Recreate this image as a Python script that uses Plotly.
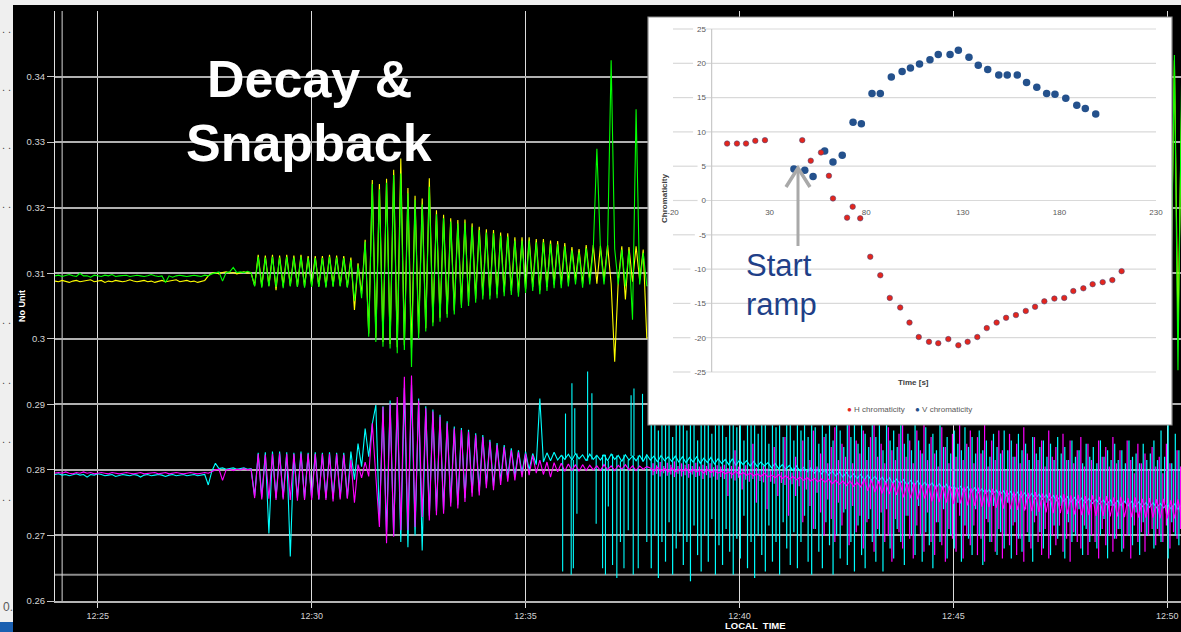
import plotly.graph_objects as go
from datetime import datetime, timedelta

# ---------------------------------------------------------------
# Beam chromaticity signals, sampled every 5 s from 12:24:00
# ---------------------------------------------------------------
T_START = datetime(2012, 3, 30, 12, 24, 0)
SAMPLE_S = 5

green_main = [
    0.3096, 0.3097, 0.3095, 0.3096, 0.3098, 0.3096, 0.3095, 0.3100, 0.3096, 0.3096,
    0.3094, 0.3097, 0.3096, 0.3095, 0.3097, 0.3096, 0.3098, 0.3095, 0.3096, 0.3096,
    0.3097, 0.3095, 0.3096, 0.3097, 0.3096, 0.3095, 0.3096, 0.3098, 0.3096, 0.3095,
    0.3096, 0.3086, 0.3096, 0.3094, 0.3096, 0.3097, 0.3096, 0.3095, 0.3096, 0.3097,
    0.3096, 0.3095, 0.3097, 0.3096,
    0.3099, 0.3101, 0.3102, 0.3088, 0.3101, 0.3102, 0.3109, 0.3101, 0.3102, 0.3101,
    0.3103, 0.3101,
    0.3080, 0.3125, 0.3078, 0.3124, 0.3080, 0.3125, 0.3079, 0.3124, 0.3077, 0.3125,
    0.3080, 0.3124, 0.3079, 0.3125, 0.3078, 0.3123, 0.3079, 0.3123, 0.3079, 0.3123,
    0.3078, 0.3125, 0.3079, 0.3124, 0.3080, 0.3123, 0.3078, 0.3120, 0.3058, 0.3112,
    0.3062, 0.3148, 0.3003, 0.3236, 0.2995, 0.3228, 0.2988, 0.3238, 0.2985, 0.3250,
    0.2978, 0.3252, 0.2983, 0.3222, 0.2957, 0.3212, 0.3000, 0.3205, 0.3011, 0.3232,
    0.3019, 0.3190, 0.3026, 0.3184, 0.3032, 0.3179, 0.3037, 0.3176, 0.3047, 0.3177,
    0.3050, 0.3171, 0.3055, 0.3166, 0.3060, 0.3162, 0.3060, 0.3161, 0.3062, 0.3157,
    0.3065, 0.3156, 0.3067, 0.3150, 0.3064, 0.3150, 0.3070, 0.3150, 0.3073, 0.3147,
    0.3068, 0.3147, 0.3073, 0.3145, 0.3077, 0.3144, 0.3077, 0.3141, 0.3080, 0.3135,
    0.3083, 0.3132, 0.3078, 0.3138, 0.3083, 0.3138, 0.3290, 0.3137, 0.3083, 0.3138,
    0.3425, 0.3137, 0.3083, 0.3136, 0.3080, 0.3135, 0.3029, 0.3350, 0.3083, 0.3131,
    0.3081,
]

yellow_main = [
    0.3088, 0.3087, 0.3089, 0.3088, 0.3086, 0.3088, 0.3089, 0.3087, 0.3088, 0.3088,
    0.3090, 0.3087, 0.3088, 0.3089, 0.3086, 0.3088, 0.3087, 0.3089, 0.3088, 0.3087,
    0.3088, 0.3090, 0.3088, 0.3087, 0.3088, 0.3089, 0.3087, 0.3088, 0.3086, 0.3088,
    0.3089, 0.3087, 0.3088, 0.3088, 0.3090, 0.3087, 0.3088, 0.3089, 0.3087, 0.3088,
    0.3086, 0.3088, 0.3089, 0.3096,
    0.3100, 0.3101, 0.3099, 0.3101, 0.3102, 0.3100, 0.3101, 0.3099, 0.3101, 0.3102,
    0.3100, 0.3101,
    0.3081, 0.3128, 0.3080, 0.3127, 0.3081, 0.3128, 0.3074, 0.3127, 0.3080, 0.3128,
    0.3081, 0.3127, 0.3080, 0.3128, 0.3080, 0.3126, 0.3081, 0.3126, 0.3080, 0.3126,
    0.3080, 0.3128, 0.3081, 0.3127, 0.3081, 0.3126, 0.3079, 0.3124, 0.3044, 0.3115,
    0.3068, 0.3151, 0.3008, 0.3242, 0.3002, 0.3236, 0.2995, 0.3244, 0.2992, 0.3258,
    0.2987, 0.3275, 0.2990, 0.3230, 0.2985, 0.3218, 0.3008, 0.3214, 0.3016, 0.3245,
    0.3025, 0.3196, 0.3032, 0.3189, 0.3038, 0.3184, 0.3043, 0.3181, 0.3052, 0.3182,
    0.3056, 0.3176, 0.3061, 0.3171, 0.3066, 0.3167, 0.3066, 0.3166, 0.3068, 0.3162,
    0.3071, 0.3161, 0.3073, 0.3155, 0.3070, 0.3155, 0.3076, 0.3155, 0.3079, 0.3152,
    0.3074, 0.3152, 0.3079, 0.3150, 0.3083, 0.3149, 0.3083, 0.3146, 0.3086, 0.3140,
    0.3089, 0.3137, 0.3084, 0.3143, 0.3089, 0.3143, 0.3084, 0.3142, 0.3089, 0.3143,
    0.3084, 0.2965, 0.3089, 0.3141, 0.3060, 0.3140, 0.3087, 0.3141, 0.3089, 0.3136,
    0.3001,
]

# last samples of the horizontal-plane pair (12:50:00 onwards)
EDGE_FIRST = 312
green_edge = [0.3110, 0.3050, 0.3433, 0.2952, 0.3390]
yellow_edge = [0.3112, 0.3080, 0.3425, 0.3013, 0.3350]

# vertical-plane pair, samples 0..141 (cyan) and 0..166 (magenta)
cyan = [
    0.2793, 0.2794, 0.2792, 0.2793, 0.2791, 0.2793, 0.2794, 0.2792, 0.2793, 0.2789,
    0.2793, 0.2792, 0.2794, 0.2793, 0.2791, 0.2792, 0.2793, 0.2790, 0.2792, 0.2793,
    0.2792, 0.2791, 0.2793, 0.2792, 0.2789, 0.2792, 0.2793, 0.2791, 0.2792, 0.2793,
    0.2792, 0.2790, 0.2792, 0.2793, 0.2791, 0.2792, 0.2793, 0.2791, 0.2792, 0.2793,
    0.2791, 0.2792, 0.2793, 0.2777,
    0.2798, 0.2810, 0.2802, 0.2803, 0.2801, 0.2802, 0.2803, 0.2801, 0.2802, 0.2803,
    0.2801, 0.2802,
    0.2760, 0.2826, 0.2758, 0.2827, 0.2703, 0.2828, 0.2757, 0.2828, 0.2758, 0.2827,
    0.2668, 0.2826, 0.2757, 0.2828, 0.2756, 0.2826, 0.2757, 0.2827, 0.2755, 0.2826,
    0.2757, 0.2827, 0.2756, 0.2826, 0.2758, 0.2826, 0.2757, 0.2828, 0.2785, 0.2840,
    0.2805, 0.2863, 0.2820, 0.2870, 0.2899, 0.2723, 0.2897, 0.2705, 0.2906, 0.2700,
    0.2903, 0.2690, 0.2925, 0.2682, 0.2930, 0.2700, 0.2909, 0.2677,
    0.2897, 0.2730, 0.2892, 0.2737, 0.2884, 0.2739, 0.2874, 0.2750, 0.2866, 0.2747,
    0.2864, 0.2757, 0.2861, 0.2765, 0.2856, 0.2767, 0.2853, 0.2778, 0.2846, 0.2775,
    0.2841, 0.2783, 0.2838, 0.2788, 0.2833, 0.2790, 0.2830, 0.2795, 0.2828, 0.2800,
    0.2825, 0.2808,
    0.2909, 0.2812, 0.2826, 0.2814, 0.2827, 0.2815,
]

# cyan running level from sample 142 on
CYAN_LEVEL_FIRST = 142
cyan_level = [
    0.2822, 0.2816, 0.2824, 0.2815, 0.2825, 0.2817, 0.2823, 0.2814, 0.2824, 0.2816,
    0.2822, 0.2815, 0.2823, 0.2814, 0.2824, 0.2816, 0.2822, 0.2813, 0.2823, 0.2815,
    0.2821, 0.2814, 0.2822, 0.2813, 0.2823, 0.2815, 0.2821, 0.2812, 0.2822, 0.2814,
    0.2820, 0.2813, 0.2821, 0.2812, 0.2820, 0.2811, 0.2819, 0.2812, 0.2820, 0.2810,
    0.2818, 0.2811, 0.2819, 0.2809, 0.2817, 0.2810, 0.2816, 0.2808, 0.2817, 0.2807,
    0.2815, 0.2808, 0.2814, 0.2806, 0.2813, 0.2805, 0.2812, 0.2806, 0.2811, 0.2803,
    0.2810, 0.2802, 0.2808, 0.2801, 0.2807, 0.2799, 0.2806, 0.2798, 0.2804, 0.2797,
    0.2803, 0.2795, 0.2801, 0.2794, 0.2800, 0.2792, 0.2798, 0.2791, 0.2797, 0.2789,
    0.2796, 0.2788, 0.2794, 0.2787, 0.2793, 0.2785, 0.2792, 0.2784, 0.2790, 0.2783,
    0.2789, 0.2781, 0.2788, 0.2780, 0.2786, 0.2779, 0.2785, 0.2777, 0.2784, 0.2776,
    0.2783, 0.2775, 0.2781, 0.2774, 0.2780, 0.2772, 0.2779, 0.2771, 0.2778, 0.2770,
    0.2776, 0.2769, 0.2775, 0.2767, 0.2774, 0.2766, 0.2773, 0.2765, 0.2771, 0.2764,
    0.2770, 0.2763, 0.2769, 0.2762, 0.2768, 0.2760, 0.2767, 0.2759, 0.2766, 0.2758,
    0.2765, 0.2757, 0.2764, 0.2756, 0.2763, 0.2755, 0.2762, 0.2754, 0.2761, 0.2753,
    0.2760, 0.2752, 0.2759, 0.2751, 0.2758, 0.2750, 0.2757, 0.2750, 0.2756, 0.2749,
    0.2755, 0.2748, 0.2754, 0.2747, 0.2754, 0.2746, 0.2753, 0.2746, 0.2752, 0.2745,
    0.2752, 0.2744, 0.2751, 0.2744, 0.2750, 0.2743, 0.2750, 0.2742, 0.2749, 0.2742,
    0.2748, 0.2741, 0.2748, 0.2740, 0.2747,
]

# first cyan glitches (seconds after 12:24:00, extreme value)
cyan_glitch_s = [712, 716, 724, 725, 727, 729, 732, 747, 753, 759, 768, 772,
                 776, 782, 788, 793, 798, 804, 808, 811, 812, 818, 824, 830]
cyan_glitch_v = [0.2645, 0.2886, 0.2640, 0.2932, 0.2650, 0.2894, 0.2733, 0.2950,
                 0.2917, 0.2718, 0.2650, 0.2640, 0.2744, 0.2655, 0.2635, 0.2690,
                 0.2650, 0.2708, 0.2914, 0.2640, 0.2924, 0.2650, 0.2916, 0.2690]

# per-sample extremes from sample 167 on (noisy part of the record)
NOISY_FIRST = 167
cyan_low = [
    0.2650, 0.2700, 0.2635, 0.2690, 0.2660, 0.2720, 0.2640, 0.2680, 0.2705, 0.2655,
    0.2690, 0.2630, 0.2715, 0.2670, 0.2645, 0.2700, 0.2660, 0.2725, 0.2640, 0.2685,
    0.2655, 0.2710, 0.2675, 0.2640, 0.2695, 0.2665, 0.2730, 0.2650, 0.2690, 0.2635,
    0.2700, 0.2670, 0.2645, 0.2715, 0.2660, 0.2690, 0.2640, 0.2720, 0.2680, 0.2655,
    0.2705, 0.2650, 0.2690, 0.2730, 0.2660, 0.2640, 0.2710, 0.2675, 0.2650, 0.2720,
    0.2685, 0.2640, 0.2700, 0.2665, 0.2735, 0.2655, 0.2690, 0.2645, 0.2715, 0.2670,
    0.2650, 0.2725, 0.2690, 0.2660, 0.2700, 0.2645, 0.2740, 0.2680, 0.2665, 0.2710,
    0.2690, 0.2655, 0.2730, 0.2700, 0.2670, 0.2745, 0.2660, 0.2705, 0.2685, 0.2650,
    0.2720, 0.2690, 0.2740, 0.2665, 0.2700, 0.2680, 0.2750, 0.2660, 0.2715, 0.2695,
    0.2670, 0.2740, 0.2700, 0.2655, 0.2725, 0.2690, 0.2745, 0.2670, 0.2705, 0.2680,
    0.2750, 0.2665, 0.2720, 0.2695, 0.2675, 0.2740, 0.2690, 0.2660, 0.2730, 0.2705,
    0.2680, 0.2750, 0.2670, 0.2715, 0.2695, 0.2745, 0.2665, 0.2720, 0.2690, 0.2700,
    0.2740, 0.2670, 0.2710, 0.2690, 0.2755, 0.2680, 0.2700, 0.2725, 0.2665, 0.2745,
    0.2695, 0.2710, 0.2675, 0.2750, 0.2700, 0.2685, 0.2735, 0.2670, 0.2720, 0.2700,
    0.2745, 0.2680, 0.2710, 0.2690, 0.2750, 0.2665, 0.2720, 0.2700, 0.2685, 0.2740,
]
cyan_high = [
    0.2880, 0.2910, 0.2860, 0.2900, 0.2875, 0.2925, 0.2850, 0.2895, 0.2870, 0.2915,
    0.2860, 0.2905, 0.2880, 0.2845, 0.2920, 0.2870, 0.2890, 0.2855, 0.2910, 0.2875,
    0.2900, 0.2850, 0.2885, 0.2915, 0.2865, 0.2895, 0.2845, 0.2905, 0.2870, 0.2890,
    0.2855, 0.2910, 0.2875, 0.2840, 0.2900, 0.2865, 0.2885, 0.2850, 0.2905, 0.2870,
    0.2845, 0.2895, 0.2860, 0.2880, 0.2850, 0.2900, 0.2865, 0.2840, 0.2890, 0.2855,
    0.2875, 0.2845, 0.2895, 0.2860, 0.2835, 0.2885, 0.2850, 0.2870, 0.2840, 0.2890,
    0.2855, 0.2835, 0.2880, 0.2850, 0.2870, 0.2830, 0.2885, 0.2845, 0.2860, 0.2835,
    0.2875, 0.2840, 0.2855, 0.2830, 0.2870, 0.2845, 0.2825, 0.2865, 0.2840, 0.2855,
    0.2830, 0.2870, 0.2835, 0.2850, 0.2825, 0.2860, 0.2840, 0.2830, 0.2865, 0.2835,
    0.2850, 0.2825, 0.2860, 0.2830, 0.2845, 0.2820, 0.2855, 0.2835, 0.2825, 0.2860,
    0.2830, 0.2845, 0.2820, 0.2855, 0.2830, 0.2840, 0.2815, 0.2850, 0.2825, 0.2835,
    0.2845, 0.2820, 0.2840, 0.2815, 0.2850, 0.2825, 0.2835, 0.2815, 0.2845, 0.2820,
    0.2830, 0.2810, 0.2840, 0.2820, 0.2835, 0.2810, 0.2845, 0.2820, 0.2830, 0.2815,
    0.2840, 0.2815, 0.2830, 0.2810, 0.2845, 0.2820, 0.2825, 0.2810, 0.2840, 0.2815,
    0.2825, 0.2845, 0.2815, 0.2860, 0.2820, 0.2870, 0.2810, 0.2855, 0.2830, 0.2865,
]

magenta = [
    0.2795, 0.2796, 0.2795, 0.2797, 0.2795, 0.2794, 0.2796, 0.2795, 0.2797, 0.2795,
    0.2796, 0.2794, 0.2795, 0.2796, 0.2795, 0.2794, 0.2796, 0.2795, 0.2794, 0.2795,
    0.2796, 0.2795, 0.2794, 0.2795, 0.2796, 0.2794, 0.2795, 0.2795, 0.2796, 0.2794,
    0.2795, 0.2796, 0.2794, 0.2795, 0.2796, 0.2795, 0.2794, 0.2795, 0.2796, 0.2795,
    0.2794, 0.2795, 0.2796, 0.2795,
    0.2798, 0.2800, 0.2801, 0.2784, 0.2800, 0.2801, 0.2799, 0.2801, 0.2800, 0.2802,
    0.2800, 0.2801,
    0.2757, 0.2824, 0.2755, 0.2823, 0.2756, 0.2824, 0.2754, 0.2825, 0.2755, 0.2824,
    0.2754, 0.2824, 0.2753, 0.2825, 0.2754, 0.2824, 0.2754, 0.2824, 0.2755, 0.2824,
    0.2754, 0.2824, 0.2752, 0.2824, 0.2755, 0.2823, 0.2756, 0.2815, 0.2750, 0.2808,
    0.2788, 0.2812, 0.2790, 0.2871, 0.2790, 0.2713, 0.2896, 0.2688, 0.2901, 0.2698,
    0.2911, 0.2708, 0.2942, 0.2708, 0.2944, 0.2713, 0.2906, 0.2728,
    0.2894, 0.2723, 0.2889, 0.2731, 0.2881, 0.2733, 0.2871, 0.2744, 0.2863, 0.2741,
    0.2861, 0.2751, 0.2858, 0.2759, 0.2853, 0.2761, 0.2850, 0.2772, 0.2843, 0.2769,
    0.2838, 0.2777, 0.2835, 0.2782, 0.2830, 0.2784, 0.2827, 0.2789, 0.2825, 0.2792,
    0.2822, 0.2795,
    0.2815, 0.2793, 0.2812, 0.2789, 0.2811, 0.2797, 0.2810, 0.2798, 0.2809, 0.2799,
    0.2808, 0.2798, 0.2808, 0.2799, 0.2807, 0.2800, 0.2806, 0.2799, 0.2808, 0.2800,
    0.2806, 0.2799, 0.2807, 0.2801, 0.2808, 0.2800, 0.2806, 0.2799, 0.2806, 0.2801,
    0.2805,
]

magenta_level = [
    0.2803, 0.2798, 0.2804, 0.2798, 0.2802, 0.2797, 0.2803, 0.2797, 0.2801, 0.2798,
    0.2802, 0.2796, 0.2801, 0.2797, 0.2800, 0.2795, 0.2801, 0.2796, 0.2799, 0.2795,
    0.2798, 0.2794, 0.2797, 0.2793, 0.2798, 0.2792, 0.2796, 0.2792, 0.2795, 0.2791,
    0.2794, 0.2790, 0.2795, 0.2789, 0.2792, 0.2788, 0.2793, 0.2787, 0.2791, 0.2786,
    0.2790, 0.2785, 0.2789, 0.2784, 0.2788, 0.2783, 0.2787, 0.2782, 0.2786, 0.2781,
    0.2786, 0.2779, 0.2784, 0.2778, 0.2783, 0.2776, 0.2783, 0.2775, 0.2781, 0.2774,
    0.2786, 0.2768, 0.2784, 0.2766, 0.2783, 0.2764, 0.2781, 0.2763, 0.2780, 0.2762,
    0.2782, 0.2758, 0.2779, 0.2757, 0.2780, 0.2755, 0.2777, 0.2756, 0.2778, 0.2752,
    0.2776, 0.2751, 0.2775, 0.2750, 0.2776, 0.2748, 0.2773, 0.2749, 0.2774, 0.2746,
    0.2772, 0.2745, 0.2773, 0.2744, 0.2770, 0.2743, 0.2771, 0.2742, 0.2768, 0.2741,
    0.2769, 0.2740, 0.2767, 0.2739, 0.2768, 0.2738, 0.2765, 0.2737, 0.2766, 0.2736,
    0.2764, 0.2735, 0.2765, 0.2734, 0.2762, 0.2734, 0.2763, 0.2733, 0.2761, 0.2732,
    0.2762, 0.2731, 0.2760, 0.2731, 0.2761, 0.2730, 0.2759, 0.2730, 0.2760, 0.2729,
    0.2758, 0.2729, 0.2759, 0.2728, 0.2757, 0.2728, 0.2758, 0.2727, 0.2756, 0.2727,
    0.2757, 0.2727, 0.2755, 0.2726, 0.2756, 0.2726, 0.2754, 0.2726, 0.2755, 0.2726,
]
magenta_low = [
    0.2792, 0.2794, 0.2790, 0.2795, 0.2791, 0.2793, 0.2789, 0.2794, 0.2790, 0.2792,
    0.2788, 0.2793, 0.2789, 0.2791, 0.2786, 0.2792, 0.2788, 0.2790, 0.2785, 0.2789,
    0.2786, 0.2760, 0.2787, 0.2784, 0.2788, 0.2770, 0.2785, 0.2782, 0.2786, 0.2750,
    0.2783, 0.2781, 0.2740, 0.2782, 0.2779, 0.2760, 0.2780, 0.2777, 0.2730, 0.2778,
    0.2760, 0.2775, 0.2720, 0.2770, 0.2745, 0.2710, 0.2765, 0.2735, 0.2700, 0.2755,
    0.2725, 0.2690, 0.2750, 0.2715, 0.2740, 0.2685, 0.2745, 0.2705, 0.2730, 0.2680,
    0.2720, 0.2740, 0.2675, 0.2710, 0.2735, 0.2690, 0.2700, 0.2660, 0.2725, 0.2705,
    0.2680, 0.2730, 0.2695, 0.2665, 0.2715, 0.2700, 0.2675, 0.2735, 0.2690, 0.2670,
    0.2720, 0.2685, 0.2660, 0.2710, 0.2695, 0.2675, 0.2730, 0.2665, 0.2700, 0.2685,
    0.2715, 0.2670, 0.2695, 0.2660, 0.2720, 0.2690, 0.2675, 0.2710, 0.2665, 0.2700,
    0.2685, 0.2715, 0.2670, 0.2695, 0.2660, 0.2705, 0.2680, 0.2720, 0.2690, 0.2670,
    0.2710, 0.2665, 0.2700, 0.2685, 0.2715, 0.2675, 0.2695, 0.2660, 0.2705, 0.2690,
    0.2680, 0.2715, 0.2670, 0.2700, 0.2690, 0.2665, 0.2710, 0.2685, 0.2700, 0.2675,
    0.2695, 0.2710, 0.2680, 0.2700, 0.2665, 0.2715, 0.2690, 0.2705, 0.2675, 0.2700,
    0.2710, 0.2685, 0.2700, 0.2690, 0.2715, 0.2680, 0.2705, 0.2695, 0.2710, 0.2700,
]
magenta_high = [
    0.2810, 0.2807, 0.2812, 0.2806, 0.2811, 0.2808, 0.2813, 0.2806, 0.2810, 0.2808,
    0.2809, 0.2806, 0.2811, 0.2805, 0.2808, 0.2806, 0.2810, 0.2804, 0.2807, 0.2805,
    0.2808, 0.2803, 0.2806, 0.2830, 0.2805, 0.2802, 0.2807, 0.2801, 0.2840, 0.2803,
    0.2800, 0.2806, 0.2802, 0.2799, 0.2835, 0.2800, 0.2797, 0.2850, 0.2799, 0.2796,
    0.2820, 0.2798, 0.2845, 0.2800, 0.2815, 0.2860, 0.2805, 0.2825, 0.2850, 0.2810,
    0.2835, 0.2865, 0.2815, 0.2840, 0.2820, 0.2870, 0.2810, 0.2845, 0.2825, 0.2860,
    0.2815, 0.2850, 0.2870, 0.2820, 0.2840, 0.2810, 0.2865, 0.2830, 0.2815, 0.2855,
    0.2875, 0.2820, 0.2845, 0.2810, 0.2860, 0.2830, 0.2870, 0.2815, 0.2850, 0.2825,
    0.2805, 0.2865, 0.2835, 0.2810, 0.2855, 0.2820, 0.2875, 0.2815, 0.2840, 0.2860,
    0.2810, 0.2850, 0.2825, 0.2870, 0.2805, 0.2845, 0.2815, 0.2860, 0.2830, 0.2800,
    0.2855, 0.2820, 0.2840, 0.2810, 0.2865, 0.2825, 0.2800, 0.2850, 0.2815, 0.2845,
    0.2805, 0.2860, 0.2820, 0.2835, 0.2800, 0.2855, 0.2815, 0.2845, 0.2810, 0.2830,
    0.2850, 0.2805, 0.2840, 0.2815, 0.2800, 0.2845, 0.2820, 0.2835, 0.2805, 0.2850,
    0.2810, 0.2830, 0.2800, 0.2845, 0.2815, 0.2795, 0.2840, 0.2810, 0.2825, 0.2800,
    0.2835, 0.2805, 0.2820, 0.2795, 0.2840, 0.2810, 0.2800, 0.2830, 0.2805, 0.2815,
]

main_yticks = [0.26, 0.27, 0.28, 0.29, 0.30, 0.31, 0.32, 0.33, 0.34]
main_yticktext = ["0.26", "0.27", "0.28", "0.29", "0.3", "0.31", "0.32", "0.33", "0.34"]

# ---------------------------------------------------------------
# Inset: chromaticity measured along the ramp
# ---------------------------------------------------------------
v_time = [42.6, 48.2, 52.5, 58.5, 62.8, 67.6, 73.2, 77.5, 83.0, 87.3,
          93.0, 98.6, 102.9, 107.6, 113.0, 117.3, 123.4, 127.7, 133.2, 138.0,
          142.9, 148.6, 153.0, 158.2, 163.0, 168.3, 173.4, 177.7, 183.3, 189.0,
          193.4, 198.8]
v_chroma = [4.6, 4.4, 3.5, 7.2, 5.6, 6.6, 11.4, 11.2, 15.6, 15.6,
            18.0, 18.8, 19.3, 19.9, 20.5, 21.3, 21.3, 21.9, 20.9, 19.7,
            19.1, 18.3, 18.3, 18.3, 17.2, 16.5, 15.6, 15.5, 14.9, 13.9,
            13.4, 12.6]
h_time = [8.0, 13.1, 17.8, 22.6, 27.6, 46.9, 51.3, 56.6, 60.7, 62.8,
          70.1, 73.0, 76.9, 82.1, 87.3, 92.2, 97.6, 102.4, 107.2, 112.5,
          117.3, 122.5, 127.7, 132.5, 137.5, 142.4, 147.5, 152.4, 157.5, 162.6,
          167.4, 172.2, 177.4, 182.5, 187.2, 192.4, 197.2, 202.4, 207.4, 212.2]
h_chroma = [8.3, 8.3, 8.3, 8.7, 8.8, 8.8, 5.8, 7.0, 3.6, 0.3,
            -2.5, -0.9, -2.6, -8.2, -10.9, -14.2, -15.6, -17.8, -19.9, -20.6,
            -20.8, -20.2, -21.1, -20.6, -19.9, -18.6, -17.8, -17.1, -16.7, -16.1,
            -15.5, -14.7, -14.3, -14.2, -13.2, -12.8, -12.2, -11.9, -11.6, -10.3]

inset_xticks = [-20, 30, 80, 130, 180, 230]
inset_xticktext = ["-20", "30", "80", "130", "180", "230"]
inset_yticks = [-25, -20, -15, -10, -5, 0, 5, 10, 15, 20, 25]
inset_yticktext = ["-25", "-20", "-15", "-10", "-5", "0", "5", "10", "15", "20", "25"]

# ---------------------------------------------------------------
# Page geometry (pixels) and helpers
# ---------------------------------------------------------------
W, H = 1181, 632
ML, MT, MB = 55, 11, 31
PW, PH = W - ML, H - MT - MB
PX_PER_MIN = 42.78
FONT = "Liberation Sans, Arial, sans-serif"


def fx(px):
    return (px - ML) / PW


def fy(py):
    return (H - MB - py) / PH


def stamps(first, n):
    return [T_START + timedelta(seconds=SAMPLE_S * (first + k)) for k in range(n)]


def glitch_path(secs, values, level, first):
    """Vertical strokes from the running level to each glitch extreme."""
    xs, ys = [], []
    for s, v in zip(secs, values):
        k = min(max(int(round(s / SAMPLE_S)) - first, 0), len(level) - 1)
        t = T_START + timedelta(seconds=s)
        xs += [t, t, None]
        ys += [level[k], v, None]
    return xs, ys


def extremes_path(first, lows, highs, shift_s):
    """One vertical stroke per sample spanning its min..max excursion."""
    xs, ys = [], []
    for k, (lo, hi) in enumerate(zip(lows, highs)):
        t = T_START + timedelta(seconds=SAMPLE_S * (first + k) + shift_s)
        xs += [t, t, None]
        ys += [lo, hi, None]
    return xs, ys


x_end = T_START + timedelta(minutes=PW / PX_PER_MIN)

# inset frame and its value scale
BOX_L, BOX_R, BOX_T, BOX_B = 648, 1172, 17, 425
IX_A, IX_B = 673, 1156      # pixel columns of -20 and 230
IY_A, IY_B = 29, 372        # pixel rows of 25 and -25
ipx = (IX_B - IX_A) / 250.0
ipy = (IY_B - IY_A) / 50.0


def ix(px):
    return -20 + (px - IX_A) / ipx


def iy(py):
    return 25 - (py - IY_A) / ipy


fig = go.Figure()
LW = 1.1


def add_line(x, y, color, width=LW):
    fig.add_trace(go.Scatter(x=x, y=y, mode="lines", line=dict(color=color, width=width),
                             hoverinfo="skip", showlegend=False))


# horizontal-plane pair
add_line(stamps(0, len(yellow_main)) + stamps(EDGE_FIRST, len(yellow_edge)),
         yellow_main + yellow_edge, "#ffff00")
add_line(stamps(0, len(green_main)) + stamps(EDGE_FIRST, len(green_edge)),
         green_main + green_edge, "#00ff00")

# vertical-plane pair (per-sample extremes drawn at quarter offsets so both stay visible)
add_line(stamps(0, len(cyan)) + stamps(CYAN_LEVEL_FIRST, len(cyan_level)),
         cyan + cyan_level, "#00ffff")
gx, gy = glitch_path(cyan_glitch_s, cyan_glitch_v, cyan_level, CYAN_LEVEL_FIRST)
add_line(gx, gy, "#00ffff")
ex, ey = extremes_path(NOISY_FIRST, cyan_low, cyan_high, 1.25)
add_line(ex, ey, "#00ffff", 1.2)
add_line(stamps(0, len(magenta)) + stamps(NOISY_FIRST, len(magenta_level)),
         magenta + magenta_level, "#ff00ff")
ex, ey = extremes_path(NOISY_FIRST, magenta_low, magenta_high, 3.75)
add_line(ex, ey, "#ff00ff", 1.2)

# inset scatter
fig.add_trace(go.Scatter(x=v_time, y=v_chroma, xaxis="x2", yaxis="y2", mode="markers",
                         marker=dict(size=7.5, color="#24518c", line=dict(width=0)),
                         hoverinfo="skip", showlegend=False))
fig.add_trace(go.Scatter(x=h_time, y=h_chroma, xaxis="x2", yaxis="y2", mode="markers",
                         marker=dict(size=5.5, color="#e4261d",
                                     line=dict(width=1, color="rgba(70,70,120,0.55)")),
                         hoverinfo="skip", showlegend=False))

shapes = [
    # black screen area
    dict(type="rect", xref="paper", yref="paper", x0=fx(13), x1=1.02, y0=fy(645), y1=fy(5),
         fillcolor="#000000", line=dict(width=0), layer="below"),
    # blue corner strip
    dict(type="rect", xref="paper", yref="paper", x0=fx(-2), x1=fx(13), y0=fy(634), y1=fy(622),
         fillcolor="#1a5fb0", line=dict(width=0), layer="below"),
    # lower limit line
    dict(type="line", xref="paper", yref="y", x0=0, x1=1, y0=0.264, y1=0.264,
         line=dict(color="#8c8c8c", width=2), layer="below"),
    # cursor
    dict(type="line", xref="x", yref="y", x0=T_START + timedelta(seconds=10),
         x1=T_START + timedelta(seconds=10), y0=0.26, y1=0.35,
         line=dict(color="#d8d8d8", width=1), layer="below"),
    # inset white panel
    dict(type="rect", xref="x2", yref="y2", x0=ix(BOX_L - 2), x1=ix(BOX_R + 2),
         y0=iy(BOX_B + 2), y1=iy(BOX_T - 2), fillcolor="#ffffff", line=dict(width=0), layer="below"),
]

# inset horizontal gridlines, interrupted behind the value labels
for v, txt in zip(inset_yticks, inset_yticktext):
    lab_w = 4.45 * len(txt.replace("-", "")) + (2.7 if txt.startswith("-") else 0)
    gap0 = ix(704 - lab_w - 2)
    gap1 = ix(706)
    shapes.append(dict(type="line", xref="x2", yref="y2", x0=-20, x1=gap0, y0=v, y1=v,
                       line=dict(color="#d9d9d9", width=1.2), layer="below"))
    shapes.append(dict(type="line", xref="x2", yref="y2", x0=gap1, x1=230, y0=v, y1=v,
                       line=dict(color="#d9d9d9", width=1.2), layer="below"))
# inset value axis at t = 0
shapes.append(dict(type="line", xref="x2", yref="y2", x0=0, x1=0, y0=-25, y1=25,
                   line=dict(color="#c8c8c8", width=1.2), layer="below"))
# ramp-start arrow
shapes.append(dict(type="path", xref="x2", yref="y2",
                   path=f"M {ix(798)},{iy(246)} L {ix(798)},{iy(170)}",
                   line=dict(color="#a9a9a9", width=3), layer="above"))
shapes.append(dict(type="path", xref="x2", yref="y2",
                   path=f"M {ix(786)},{iy(187)} L {ix(798)},{iy(168)} L {ix(810)},{iy(187)}",
                   line=dict(color="#a9a9a9", width=3.5), layer="above"))
# inset border
shapes.append(dict(type="rect", xref="paper", yref="paper", x0=fx(BOX_L), x1=fx(BOX_R),
                   y0=fy(BOX_B), y1=fy(BOX_T), line=dict(color="#8e8e8e", width=1.2),
                   fillcolor="rgba(0,0,0,0)", layer="above"))


def ann(px, py, text, size, color, bold=False, angle=0, xanchor="center"):
    return dict(xref="paper", yref="paper", x=fx(px), y=fy(py),
                text=f"<b>{text}</b>" if bold else text,
                showarrow=False, xanchor=xanchor, yanchor="middle", textangle=angle,
                font=dict(family=FONT, size=size, color=color))


annotations = [
    ann(309, 79, "Decay &amp;", 52, "#ffffff", bold=True),
    ann(309, 143, "Snapback", 52, "#ffffff", bold=True),
    ann(22, 306, "No Unit", 9, "#ffffff", bold=True, angle=-90),
    ann(755, 625, "LOCAL  TIME", 9.5, "#ffffff", bold=True),
    ann(744, 265, "Start", 31, "#1f3f88", xanchor="left"),
    ann(744, 304, "ramp", 31, "#1f3f88", xanchor="left"),
    ann(665, 199, "Chromaticity", 8, "#404040", bold=True, angle=-90),
    ann(913, 382, "Time [s]", 8, "#404040", bold=True),
    ann(845, 409, "<span style='color:#e4261d'>●</span> H chromaticity", 8, "#595959", xanchor="left"),
    ann(913, 409, "<span style='color:#24518c'>●</span> V chromaticity", 8, "#595959", xanchor="left"),
]
# fragments of neighbouring labels along the left edge
for py in [32, 90, 148, 207, 323, 383, 442, 500]:
    annotations.append(ann(6, py - 3, ". .", 11, "#4a4a4a"))
annotations.append(ann(1, 607, "0.", 12, "#5a5a5a", xanchor="left"))

fig.update_layout(
    width=W, height=H, autosize=False,
    margin=dict(l=ML, r=0, t=MT, b=MB, pad=0),
    paper_bgcolor="#efefef", plot_bgcolor="#000000",
    shapes=shapes, annotations=annotations,
    xaxis=dict(type="date", range=[T_START, x_end], domain=[0, 1],
               tickformat="%H:%M", dtick=300000, tick0=T_START + timedelta(minutes=1),
               showgrid=True, gridcolor="#dcdcdc", gridwidth=1,
               ticks="outside", ticklen=5, tickcolor="#dcdcdc",
               tickfont=dict(family=FONT, size=9, color="#d4d4d4"),
               showline=True, linecolor="#b4b4b4", linewidth=2, zeroline=False,
               automargin=False, fixedrange=True),
    yaxis=dict(range=[0.26, 0.35], tickvals=main_yticks, ticktext=main_yticktext,
               showgrid=True, gridcolor="#b0b0b0", gridwidth=1.5,
               ticks="outside", ticklen=7, tickcolor="#c8c8c8",
               tickfont=dict(family=FONT, size=9.5, color="#d4d4d4"),
               showline=True, linecolor="#e0e0e0", linewidth=1, zeroline=False,
               automargin=False, fixedrange=True),
    xaxis2=dict(domain=[fx(BOX_L), fx(BOX_R)], range=[ix(BOX_L), ix(BOX_R)],
                anchor="free", position=fy(201),
                tickvals=inset_xticks, ticktext=inset_xticktext, ticks="", ticklabelstandoff=5,
                tickfont=dict(family=FONT, size=8, color="#595959"),
                showgrid=False, zeroline=False, showline=False, automargin=False, fixedrange=True),
    yaxis2=dict(domain=[fy(BOX_B), fy(BOX_T)], range=[iy(BOX_B), iy(BOX_T)],
                anchor="free", position=fx(710),
                tickvals=inset_yticks, ticktext=inset_yticktext, ticks="", ticklabelstandoff=4,
                tickfont=dict(family=FONT, size=8, color="#595959"),
                showgrid=False, zeroline=False, showline=False, automargin=False, fixedrange=True),
)

fig.write_html("out.html")
